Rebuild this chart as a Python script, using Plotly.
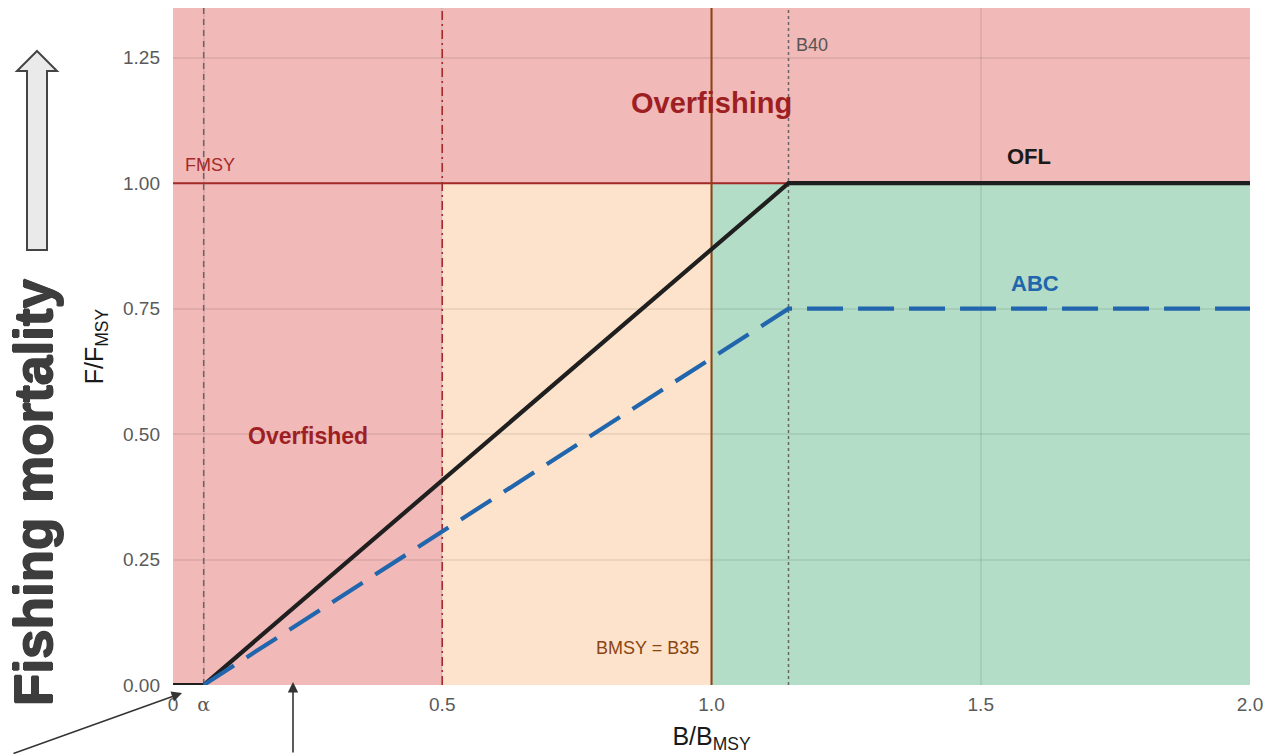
import plotly.graph_objects as go

# ---- data ----
ofl_x = [0.0, 0.057, 1.143, 2.0]
ofl_y = [0.0, 0.0, 1.0, 1.0]
abc_x = [0.057, 1.143, 2.0]
abc_y = [0.0, 0.75, 0.75]

alpha_b = 0.057     # alpha
b_limit = 0.5       # overfished threshold
b_msy = 1.0         # BMSY = B35
b40 = 1.143         # B40
f_msy = 1.0         # FMSY

x_tickvals = [0, 0.057, 0.5, 1.0, 1.5, 2.0]
x_ticktext = ["0", "<span style='font-family:DejaVu Serif'>α</span>", "0.5", "1.0", "1.5", "2.0"]
y_tickvals = [0, 0.25, 0.5, 0.75, 1.0, 1.25]
y_ticktext = ["0.00", "0.25", "0.50", "0.75", "1.00", "1.25"]

x_range = [0, 2.0]
y_range = [0, 1.349]

RED = "#F1B9B8"
ORANGE = "#FDE3CB"
GREEN = "#B3DDC6"
DARKRED = "#9E1F23"
BROWN = "#8B4513"
BLUE = "#2166AC"
FONT = "Liberation Sans, Arial, sans-serif"

fig = go.Figure()

fig.add_trace(go.Scatter(x=ofl_x, y=ofl_y, mode="lines",
                         line=dict(color="#1f1f1f", width=4.2), showlegend=False, hoverinfo="skip"))
fig.add_trace(go.Scatter(x=abc_x, y=abc_y, mode="lines",
                         line=dict(color=BLUE, width=4.2, dash="36px,15px"), showlegend=False, hoverinfo="skip"))

shapes = []
# zone fills
shapes.append(dict(type="rect", xref="x", yref="y", x0=x_range[0], x1=b_limit, y0=0, y1=y_range[1],
                   fillcolor=RED, line_width=0, layer="below"))
shapes.append(dict(type="rect", xref="x", yref="y", x0=b_limit, x1=x_range[1], y0=f_msy, y1=y_range[1],
                   fillcolor=RED, line_width=0, layer="below"))
shapes.append(dict(type="rect", xref="x", yref="y", x0=b_limit, x1=b_msy, y0=0, y1=f_msy,
                   fillcolor=ORANGE, line_width=0, layer="below"))
shapes.append(dict(type="rect", xref="x", yref="y", x0=b_msy, x1=x_range[1], y0=0, y1=f_msy,
                   fillcolor=GREEN, line_width=0, layer="below"))
# reference lines (between grid and traces)
shapes.append(dict(type="line", xref="x", yref="y", x0=x_range[0], x1=x_range[1], y0=f_msy, y1=f_msy,
                   line=dict(color="#A52A2A", width=2), layer="between"))
shapes.append(dict(type="line", xref="x", yref="y", x0=alpha_b, x1=alpha_b, y0=0, y1=y_range[1],
                   line=dict(color="#666666", width=1.5, dash="6px,5px"), layer="between"))
shapes.append(dict(type="line", xref="x", yref="y", x0=b_limit, x1=b_limit, y0=0, y1=y_range[1],
                   line=dict(color="#A52A2A", width=1.6, dash="9px,4px,2px,4px"), layer="between"))
shapes.append(dict(type="line", xref="x", yref="y", x0=b_msy, x1=b_msy, y0=0, y1=y_range[1],
                   line=dict(color=BROWN, width=2), layer="between"))
shapes.append(dict(type="line", xref="x", yref="y", x0=b40, x1=b40, y0=0, y1=y_range[1],
                   line=dict(color="#666666", width=1.5, dash="dot"), layer="between"))

# big outlined up arrow in left margin (paper coords)
def px(xp):
    return (xp - 173) / 1077.0

def py(yp):
    return (685 - yp) / 677.0

arrow_path = ("M {a},{b} L {c},{d} L {e},{d} L {e},{f} L {g},{f} L {g},{d} L {h},{d} Z").format(
    a=px(37), b=py(51), c=px(57), d=py(71), e=px(47), f=py(250), g=px(27), h=px(17))
shapes.append(dict(type="path", xref="paper", yref="paper", path=arrow_path,
                   fillcolor="#EAEAEA", line=dict(color="#444444", width=2), layer="above"))

TXT_DARK = "#3d3d3d"
heavy_shadow = ("0.8px 0 0 {c}, -0.8px 0 0 {c}, 0 0.8px 0 {c}, 0 -0.8px 0 {c}").format(c=TXT_DARK)

annotations = [
    dict(x=1.0, y=1.16, xref="x", yref="y", text="<b>Overfishing</b>", showarrow=False,
         font=dict(family=FONT, size=29, color=DARKRED)),
    dict(x=0.25, y=0.497, xref="x", yref="y", text="<b>Overfished</b>", showarrow=False,
         font=dict(family=FONT, size=23, color=DARKRED)),
    dict(x=1.59, y=1.054, xref="x", yref="y", text="<b>OFL</b>", showarrow=False,
         font=dict(family=FONT, size=22, color="#1a1a1a")),
    dict(x=1.60, y=0.80, xref="x", yref="y", text="<b>ABC</b>", showarrow=False,
         font=dict(family=FONT, size=22, color=BLUE)),
    dict(x=0.018, y=1.036, xref="x", yref="y", text="FMSY", showarrow=False, xanchor="left",
         font=dict(family=FONT, size=18, color="#A52A2A")),
    dict(x=1.153, y=1.275, xref="x", yref="y", text="B40", showarrow=False, xanchor="left",
         font=dict(family=FONT, size=18, color="#555555")),
    dict(x=0.98, y=0.074, xref="x", yref="y", text="BMSY = B35", showarrow=False, xanchor="right",
         font=dict(family=FONT, size=18, color=BROWN)),
    # big rotated label
    dict(x=px(33), y=py(492), xref="paper", yref="paper", text="<b>Fishing mortality</b>",
         showarrow=False, textangle=-90, xanchor="center", yanchor="middle",
         font=dict(family=FONT, size=53, color=TXT_DARK, shadow=heavy_shadow)),
    # bottom arrows pointing into the plot
    dict(x=px(182), y=py(693), xref="paper", yref="paper", text="", showarrow=True,
         ax=-170, ay=80, axref="pixel", ayref="pixel", arrowhead=2, arrowsize=1.3,
         arrowwidth=1.6, arrowcolor="#333333"),
    dict(x=px(293), y=py(682), xref="paper", yref="paper", text="", showarrow=True,
         ax=0, ay=90, axref="pixel", ayref="pixel", arrowhead=2, arrowsize=1.3,
         arrowwidth=1.6, arrowcolor="#333333"),
]

fig.update_layout(
    width=1266, height=754, autosize=False,
    margin=dict(l=173, r=16, t=8, b=69, autoexpand=False),
    paper_bgcolor="white", plot_bgcolor="white",
    font=dict(family=FONT, color="#4d4d4d"),
    shapes=shapes, annotations=annotations,
    showlegend=False,
)
fig.update_xaxes(range=x_range, tickvals=x_tickvals, ticktext=x_ticktext,
                 tickfont=dict(size=19, color="#5a5a5a"), showgrid=True,
                 gridcolor="rgba(0,0,0,0.07)", gridwidth=1.5, zeroline=False, showline=False,
                 ticks="", ticklabelstandoff=6, automargin=False,
                 title=dict(text="B/B<sub>MSY</sub>", font=dict(size=25, color="#1a1a1a"), standoff=14))
fig.update_yaxes(range=y_range, tickvals=y_tickvals, ticktext=y_ticktext,
                 tickfont=dict(size=19, color="#5a5a5a"), showgrid=True,
                 gridcolor="rgba(0,0,0,0.07)", gridwidth=1.5, zeroline=False, showline=False,
                 ticks="", ticklabelstandoff=12, automargin=False,
                 title=dict(text="F/F<sub>MSY</sub>", font=dict(size=25, color="#1a1a1a"), standoff=12))

fig.write_html("out.html", config={"displayModeBar": False},
               post_script="document.body.style.margin='0';document.body.style.overflow='hidden';")
